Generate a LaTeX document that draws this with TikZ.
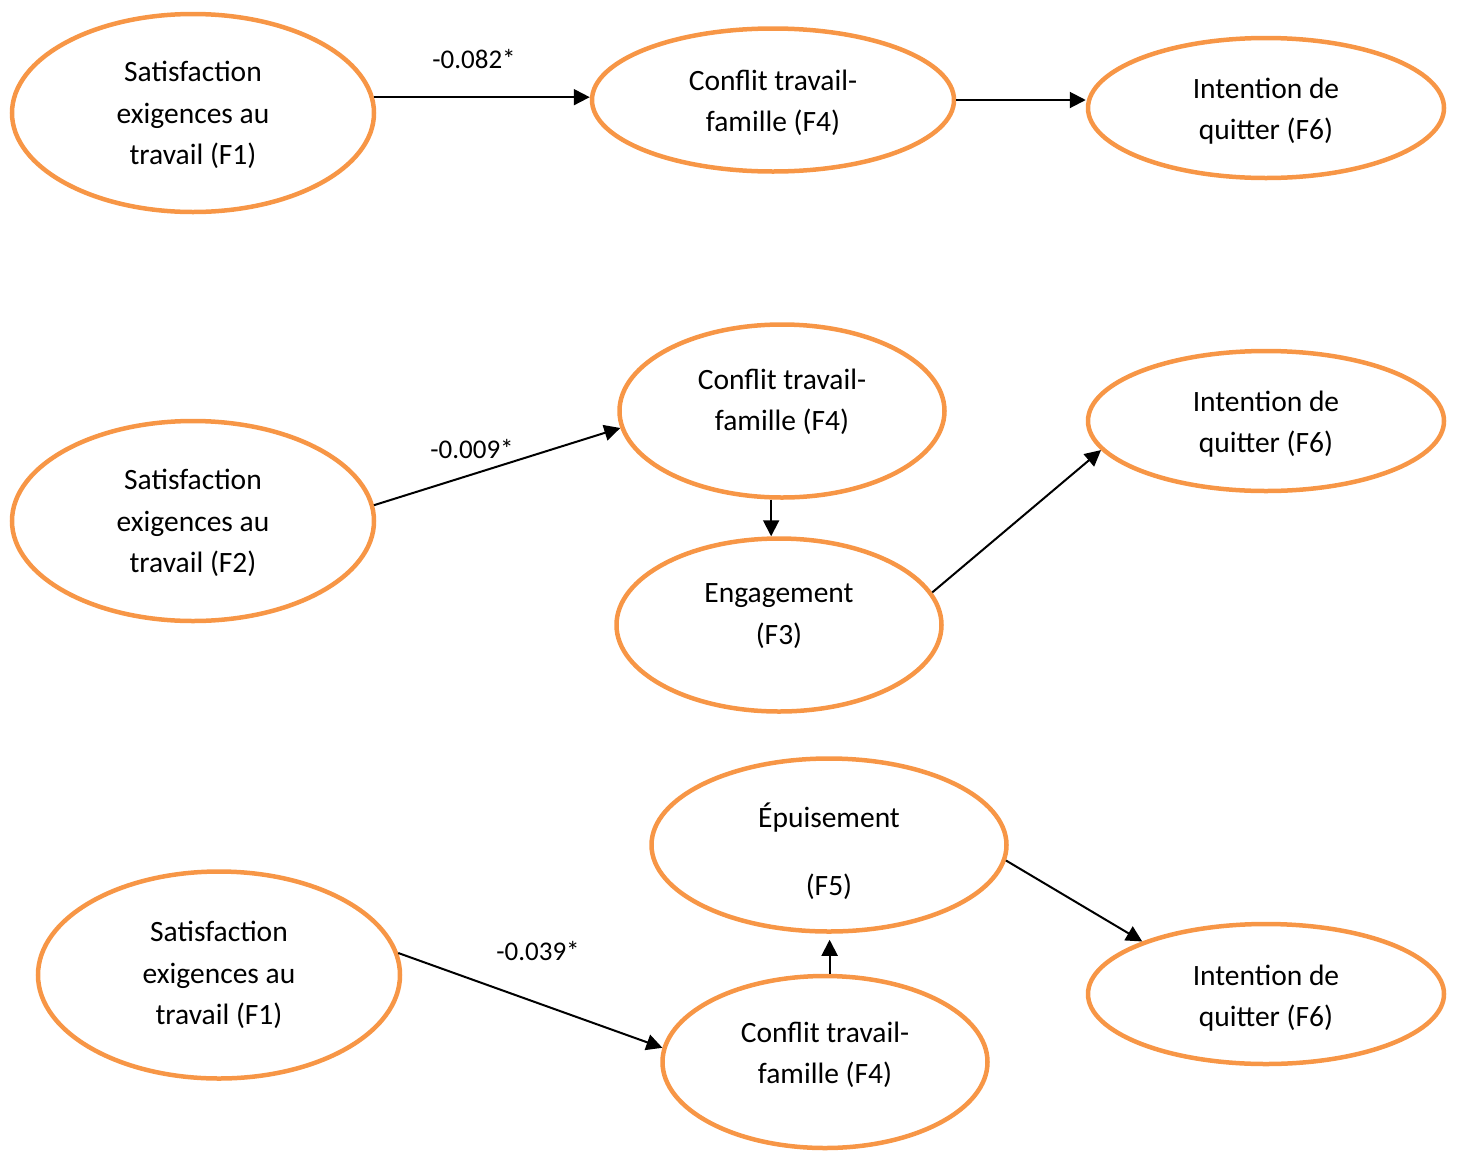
\documentclass[tikz,border=0pt]{standalone}
\usepackage{fontspec}
\setmainfont{Carlito}
\usetikzlibrary{shapes.geometric,arrows.meta}
\definecolor{accent}{HTML}{F79646}
\begin{document}
\begin{tikzpicture}[x=1pt,y=-1pt,
  ell/.style={draw=accent,line width=4.5pt,ellipse,inner sep=0pt},
  txt/.style={align=center,font=\fontsize{29.5}{41.5}\selectfont,inner sep=0pt},
  coef/.style={font=\fontsize{27}{30}\selectfont,inner sep=0pt},
  arr/.style={line width=2pt,-{Triangle[length=16pt,width=16pt]}}]
\useasboundingbox (0,0) rectangle (1457,1152);

% first path: F1 -> F4 -> F6
\node[ell,minimum width=362pt,minimum height=198pt] (e1) at (193,113) {};
\node[txt] (t1) at (193,115) {Satisfaction\\exigences au\\travail (F1)};
\node[ell,minimum width=362pt,minimum height=143pt] (e2) at (773,100) {};
\node[txt] (t2) at (773,103) {Conflit travail-\\famille (F4)};
\node[ell,minimum width=356pt,minimum height=140pt] (e3) at (1266,108) {};
\node[txt] (t3) at (1266,111) {Intention de\\quitter (F6)};

\draw[arr] (e1.5) -- (e1.5 -| e2.west);
\node[coef] (c1) at (474,59) {-0.082*};
\draw[arr] (e2.east) -- (e2.east -| e3.west);

% second path: F2 -> F4 -> F3 -> F6
\node[ell,minimum width=362pt,minimum height=200pt] (e4) at (193,521) {};
\node[txt] (t4) at (193,523) {Satisfaction\\exigences au\\travail (F2)};
\node[ell,minimum width=325pt,minimum height=173pt] (e5) at (782,411) {};
\node[txt] (t5) at (782,402) {Conflit travail-\\famille (F4)};
\node[ell,minimum width=356pt,minimum height=140pt] (e6) at (1266,421) {};
\node[txt] (t6) at (1266,424) {Intention de\\quitter (F6)};
\node[ell,minimum width=325pt,minimum height=173pt] (e7) at (779,625) {};
\node[txt] (t7) at (779,616) {Engagement\\(F3)};

\draw[arr] (e4.5) -- (e5.186);
\node[coef] (c2) at (472,449) {-0.009*};
\draw[arr] (e5.263) -- (e5.263 |- e7.north);
\draw[arr] (e7.12) -- (e6.190);

% third path: F1 -> F4 -> F5 -> F6
\node[ell,minimum width=362pt,minimum height=207pt] (e8) at (219,975) {};
\node[txt] (t8) at (219,975) {Satisfaction\\exigences au\\travail (F1)};
\node[ell,minimum width=355pt,minimum height=173pt] (e9) at (829,845) {};
\node[txt] (t9) at (829,851) {Épuisement\\[-7.5pt]\strut\\[-7.5pt](F5)};
\node[ell,minimum width=325pt,minimum height=172pt] (e10) at (825,1062) {};
\node[txt] (t10) at (825,1055) {Conflit travail-\\famille (F4)};
\node[ell,minimum width=356pt,minimum height=140pt] (e11) at (1266,994) {};
\node[txt] (t11) at (1266,998) {Intention de\\quitter (F6)};

\draw[arr] (e8.7) -- (e10.175);
\node[coef] (c3) at (538,951) {-0.039*};
\draw[arr,shorten >=6pt] (e10.87) -- (e10.87 |- e9.south);
\draw[arr] (e9.-5) -- (e11.157);
\end{tikzpicture}
\end{document}
